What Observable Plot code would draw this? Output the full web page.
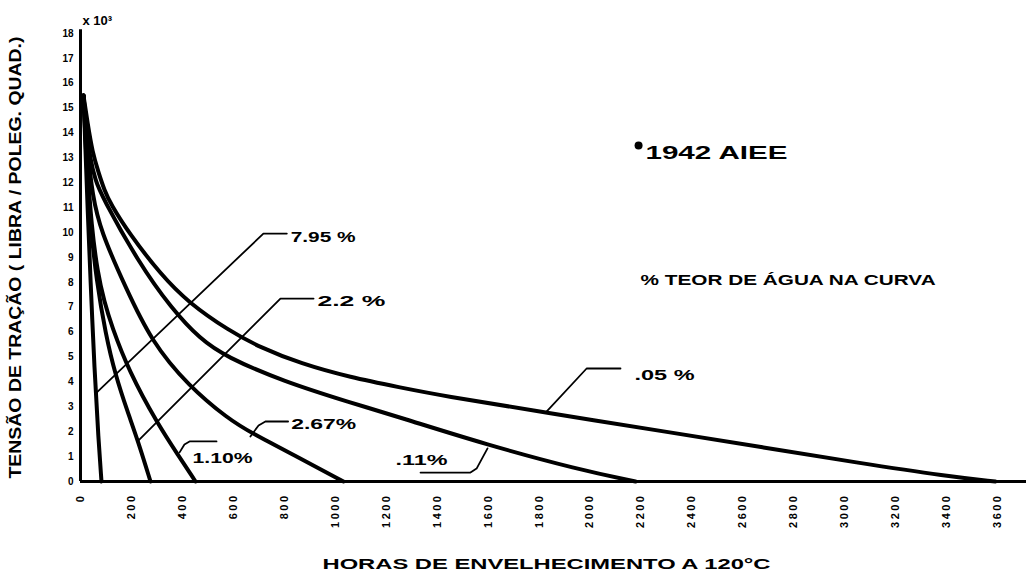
<!DOCTYPE html>
<html><head><meta charset="utf-8">
<script src="https://cdn.jsdelivr.net/npm/d3@7"></script>
<script src="https://cdn.jsdelivr.net/npm/@observablehq/plot@0.6"></script>
<style>body{margin:0;background:#fff}</style>
</head><body><div id="chart"></div>
<script>
// ---- data (hours of ageing at 120 °C, tensile strength ×10³ lb/in²)
const curveNames = ["7.95 %", "2.2 %", "1.10%", "2.67%", ".11%", ".05 %"];

const hours_795 = [11.8, 19.6, 27.5, 39.3, 55, 70.7, 82.4];
const tension_795 = [15.51, 13.3, 11.09, 8.08, 4.46, 1.65, 0];

const hours_22 = [11.8, 23.6, 39.3, 62.8, 98.2, 137.4, 184.5, 227.7, 274.8];
const tension_22 = [15.51, 12.7, 10.29, 8.07, 5.94, 4.26, 2.81, 1.57, 0];

const hours_110 = [11.8, 27.5, 43.2, 66.7, 94.2, 121.7, 188.4, 306.2, 384.7, 451.5];
const tension_110 = [15.51, 12.49, 10.29, 8.4, 7.19, 6.27, 4.46, 2.25, 1.04, 0];

const hours_267 = [11.8, 27.5, 47.1, 78.5, 176.7, 278.7, 424, 581, 667.4, 863.7, 1032.5];
const tension_267 = [15.51, 13.29, 11.49, 10.08, 7.8, 5.62, 3.84, 2.51, 1.97, 0.92, 0];

const hours_011 = [11.8, 23.6, 39.3, 58.9, 82.4, 227.7, 357.3, 471.1, 569.3, 797, 1060, 1256, 1590, 1955, 2179];
const tension_011 = [15.51, 14.1, 12.9, 12.09, 11.49, 8.8, 6.95, 5.71, 5.02, 4.02, 3.17, 2.57, 1.49, 0.48, 0];

const hours_005 = [11.8, 27.5, 47.1, 70.7, 94.2, 117.8, 188.4, 318, 424, 581, 706.7, 863.7, 1060, 1256, 1413, 1826, 2316, 2681, 3047, 3408, 3592];
const tension_005 = [15.51, 14.42, 13.22, 12.42, 11.69, 11.17, 10.0, 8.28, 7.19, 6.07, 5.38, 4.74, 4.18, 3.78, 3.46, 2.77, 1.97, 1.37, 0.76, 0.2, 0];

// leader lines from each label to its curve
const leaderH_795 = [59, 718, 810];   const leaderT_795 = [3.53, 9.96, 9.96];
const leaderH_22  = [228, 785, 915];  const leaderT_22  = [1.65, 7.35, 7.35];
const leaderH_110 = [389, 408, 428, 534]; const leaderT_110 = [1.17, 1.49, 1.61, 1.61];
const leaderH_267 = [667, 699, 726, 815]; const leaderT_267 = [1.81, 2.25, 2.41, 2.41];
const leaderH_011 = [1598, 1555, 1531, 1335]; const leaderT_011 = [1.33, 0.52, 0.36, 0.36];
const leaderH_005 = [1826, 1987, 2120]; const leaderT_005 = [2.77, 4.54, 4.54];

// curve label anchors (left edge of text)
const labelH = [825, 930, 440, 827, 1237, 2175];
const labelT = [9.8, 7.23, 0.92, 2.29, 0.84, 4.26];
const labelLen = [65, 68, 60, 65, 52, 60];

const xTicks = [0, 200, 400, 600, 800, 1000, 1200, 1400, 1600, 1800, 2000, 2200, 2400, 2600, 2800, 3000, 3200, 3400, 3600];
const yTicks = [0, 1, 2, 3, 4, 5, 6, 7, 8, 9, 10, 11, 12, 13, 14, 15, 16, 17, 18];

const xLabel = "HORAS DE ENVELHECIMENTO A 120°C";
const yLabel = "TENSÃO DE TRAÇÃO ( LIBRA / POLEG. QUAD.)";
const yUnit = "x 10³";
const noteSource = "1942 AIEE";
const noteSourceH = 2218, noteSourceT = 13.2, noteDotH = 2191, noteDotT = 13.5;
const noteCurve = "% TEOR DE ÁGUA NA CURVA";
const noteCurveH = 2199, noteCurveT = 8.08;

// ---- build tables
const curveH = [hours_795, hours_22, hours_110, hours_267, hours_011, hours_005];
const curveT = [tension_795, tension_22, tension_110, tension_267, tension_011, tension_005];
const curves = curveNames.flatMap((s, i) => curveH[i].map((h, j) => ({s, h, t: curveT[i][j]})));
const leadH = [leaderH_795, leaderH_22, leaderH_110, leaderH_267, leaderH_011, leaderH_005];
const leadT = [leaderT_795, leaderT_22, leaderT_110, leaderT_267, leaderT_011, leaderT_005];
const leaders = curveNames.flatMap((s, i) => leadH[i].map((h, j) => ({s, h, t: leadT[i][j]})));
const labels = curveNames.map((s, i) => ({s, h: labelH[i], t: labelT[i], len: labelLen[i]}));

const font = "'Liberation Sans', Arial, sans-serif";

const chart = Plot.plot({
  width: 1026, height: 583,
  marginLeft: 80, marginRight: 0, marginTop: 33, marginBottom: 102,
  x: {domain: [0, 3714]},
  y: {domain: [0, 18]},
  style: {background: "white", fontFamily: font, fontWeight: "bold", color: "black"},
  marks: [
    Plot.axisY({ticks: yTicks, tickSize: 0, tickPadding: 7, fontSize: 10, label: null, className: "yax"}),
    Plot.axisX({ticks: xTicks, tickSize: 0, tickPadding: 12, tickRotate: -90, fontSize: 11, label: null,
                tickFormat: d => String(d), className: "xax"}),
    Plot.ruleX([0], {y1: 0, y2: 18.15, strokeWidth: 3, stroke: "black"}),
    Plot.ruleY([0], {strokeWidth: 3, stroke: "black"}),
    Plot.line(curves, {x: "h", y: "t", z: "s", stroke: "black", strokeWidth: 4, curve: "basis",
                       strokeLinejoin: "round", strokeLinecap: "round"}),
    Plot.line(leaders, {x: "h", y: "t", z: "s", stroke: "black", strokeWidth: 1.8}),
    Plot.text(labels, {x: "h", y: "t", text: "s", textAnchor: "start", fontSize: 15, fill: "black", className: "clab"}),
    Plot.dot([[noteDotH, noteDotT]], {r: 4, fill: "black"}),
    Plot.text([[noteSourceH, noteSourceT]], {text: () => noteSource, textAnchor: "start", fontSize: 19, className: "src"}),
    Plot.text([[noteCurveH, noteCurveT]], {text: () => noteCurve, textAnchor: "start", fontSize: 14, className: "teor"}),
    Plot.text([yLabel], {frameAnchor: "bottom-left", textAnchor: "start", rotate: -90, dx: -60, dy: -3, fontSize: 16, className: "ylab"}),
    Plot.text([xLabel], {frameAnchor: "bottom", dx: -7, dy: 87, fontSize: 15, className: "xlab"}),
    Plot.text([yUnit], {frameAnchor: "top-left", textAnchor: "start", dx: 2, dy: -18, fontSize: 13, className: "unit"})
  ]
});

const svg = d3.select(chart);
svg.selectAll(".ylab text").attr("textLength", 442).attr("lengthAdjust", "spacingAndGlyphs");
svg.selectAll(".xlab text").attr("textLength", 448).attr("lengthAdjust", "spacingAndGlyphs");
svg.selectAll(".src text").attr("textLength", 142).attr("lengthAdjust", "spacingAndGlyphs");
svg.selectAll(".teor text").attr("textLength", 295).attr("lengthAdjust", "spacingAndGlyphs");
svg.selectAll(".clab text").each(function(d, i) {
  d3.select(this).attr("textLength", labelLen[i]).attr("lengthAdjust", "spacingAndGlyphs");
});
svg.selectAll(".xax text").style("letter-spacing", "2.5px");
document.getElementById("chart").appendChild(chart);
</script></body></html>
